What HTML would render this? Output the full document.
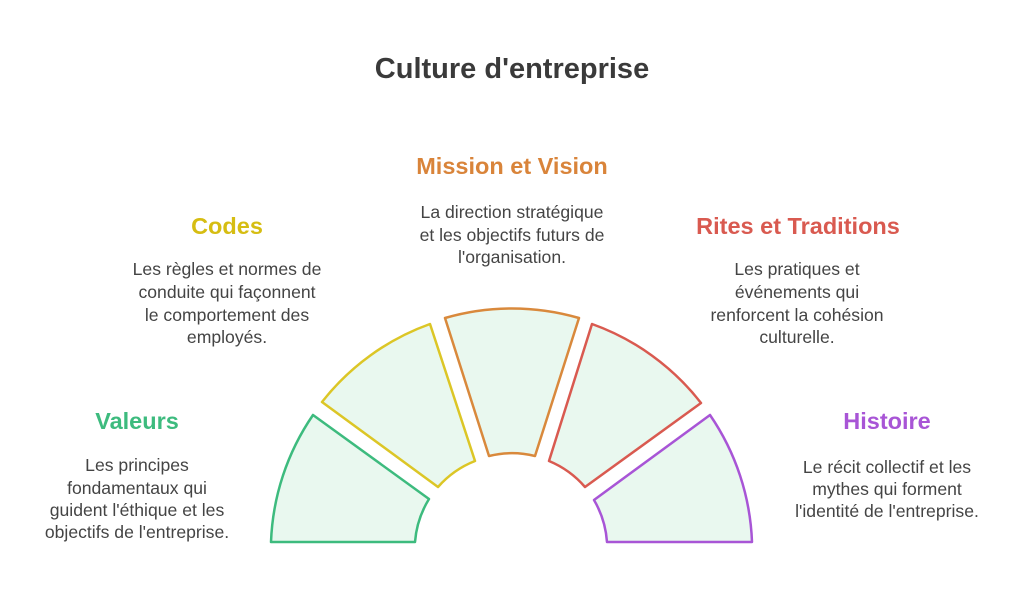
<!DOCTYPE html>
<html><head><meta charset="utf-8"><style>
body{margin:0;background:#fff;width:1024px;height:604px;overflow:hidden}
svg{display:block}
text{font-family:"Liberation Sans",Arial,sans-serif}
.d{font-size:17.6px;fill:#444}
.h{font-size:23.5px;font-weight:bold}
</style></head><body>
<svg width="1024" height="604" viewBox="0 0 1024 604">
<text x="512" y="78" text-anchor="middle" font-size="29" font-weight="bold" fill="#3a3a3a">Culture d'entreprise</text>
<g fill="#e9f8ef" stroke-width="2.5" stroke-linejoin="round">
<path d="M271,542 A240,240 0 0 1 313,415 L429,499 A96,96 0 0 0 415,542 Z" stroke="#3dbb7e"/>
<path d="M322,402 A240,240 0 0 1 430,324 L475,461 A96,96 0 0 0 438,487 Z" stroke="#dcc626"/>
<path d="M445,318 A240,240 0 0 1 579,318 L535,456 A96,96 0 0 0 489,456 Z" stroke="#d9893c"/>
<path d="M592,324 A240,240 0 0 1 701,403 L585,487 A96,96 0 0 0 549,461 Z" stroke="#d95a50"/>
<path d="M710,415 A240,240 0 0 1 752,542 L607,542 A96,96 0 0 0 594,500 Z" stroke="#a855d6"/>
</g>
<text x="512" y="174" text-anchor="middle" class="h" fill="#d9843a">Mission et Vision</text>
<g class="d" text-anchor="middle">
<text x="512" y="218">La direction stratégique</text>
<text x="512" y="241">et les objectifs futurs de</text>
<text x="512" y="263">l'organisation.</text>
</g>
<text x="227" y="234" text-anchor="middle" class="h" fill="#d6bd12">Codes</text>
<g class="d" text-anchor="middle">
<text x="227" y="275">Les règles et normes de</text>
<text x="227" y="298">conduite qui façonnent</text>
<text x="227" y="321">le comportement des</text>
<text x="227" y="343">employés.</text>
</g>
<text x="798" y="234" text-anchor="middle" class="h" fill="#d95a50">Rites et Traditions</text>
<g class="d" text-anchor="middle">
<text x="797" y="275">Les pratiques et</text>
<text x="797" y="298">événements qui</text>
<text x="797" y="321">renforcent la cohésion</text>
<text x="797" y="343">culturelle.</text>
</g>
<text x="137" y="429" text-anchor="middle" class="h" fill="#3dbb7e">Valeurs</text>
<g class="d" text-anchor="middle">
<text x="137" y="471">Les principes</text>
<text x="137" y="494">fondamentaux qui</text>
<text x="137" y="516">guident l'éthique et les</text>
<text x="137" y="538">objectifs de l'entreprise.</text>
</g>
<text x="887" y="429" text-anchor="middle" class="h" fill="#a855d6">Histoire</text>
<g class="d" text-anchor="middle">
<text x="887" y="473">Le récit collectif et les</text>
<text x="887" y="495">mythes qui forment</text>
<text x="887" y="517">l'identité de l'entreprise.</text>
</g>
</svg>
</body></html>
